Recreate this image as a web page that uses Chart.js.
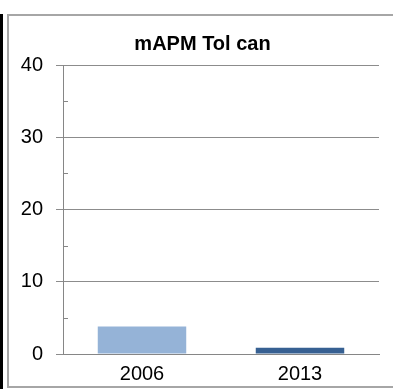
<!DOCTYPE html>
<html>
<head>
<meta charset="utf-8">
<script src="https://cdn.jsdelivr.net/npm/chart.js@4"></script>
<style>
  html, body { margin: 0; padding: 0; background: #fff; }
  #wrap { width: 393px; height: 389px; position: relative; }
</style>
</head>
<body>
<div id="wrap"><canvas id="myChart" width="393" height="389"></canvas></div>
<script>
'use strict';

let years = ['2006', '2013'];
let values = [3.8, 0.85];
let barColors = ['#95B3D7', '#376092'];
let chartTitle = 'mAPM Tol can';
let yMin = 0;
let yMax = 40;

// frame round the chart, plus the dark strip on the left edge
const framePlugin = {
  id: 'frame',
  beforeDraw(chart) {
    let ctx = chart.ctx;
    ctx.save();
    ctx.fillStyle = '#000';
    ctx.fillRect(0, 14, 3, 375);
    ctx.strokeStyle = '#a6a6a6';
    ctx.lineWidth = 2;
    ctx.strokeRect(8, 15, 400, 372);
    ctx.restore();
  }
};

// title sits a bit right of the plot's centre in the original
const titlePlugin = {
  id: 'offsetTitle',
  afterDraw(chart) {
    let ctx = chart.ctx;
    let area = chart.chartArea;
    ctx.save();
    ctx.fillStyle = '#000';
    ctx.font = 'bold 20px "Liberation Sans"';
    ctx.textAlign = 'center';
    ctx.textBaseline = 'middle';
    ctx.fillText(chartTitle, (area.left + area.right) / 2 - 18.5, 44);
    ctx.restore();
  }
};

// small inner ticks at the half steps
const minorTicks = {
  id: 'minorTicks',
  afterDatasetsDraw(chart) {
    let y = chart.scales.y;
    let ctx = chart.ctx;
    ctx.save();
    ctx.strokeStyle = '#868686';
    ctx.lineWidth = 1;
    for (let v = yMin + 5; v < yMax; v += 10) {
      let py = Math.round(y.getPixelForValue(v)) + 0.5;
      ctx.beginPath();
      ctx.moveTo(y.right, py);
      ctx.lineTo(y.right + 5, py);
      ctx.stroke();
    }
    ctx.restore();
  }
};

let canvasChart = document.getElementById('myChart').getContext('2d');

const data = {
  labels: years,
  datasets: [{
    data: values,
    backgroundColor: barColors,
    borderWidth: 0,
    categoryPercentage: 0.56,
    barPercentage: 1
  }]
};

const config = {
  type: 'bar',
  data: data,
  plugins: [framePlugin, minorTicks, titlePlugin],
  options: {
    responsive: false,
    animation: false,
    layout: { padding: { left: 8, right: 14, top: 65, bottom: 2 } },
    plugins: {
      legend: { display: false },
      tooltip: { enabled: false },
      title: { display: false }
    },
    scales: {
      x: {
        grid: { display: false, drawTicks: false },
        border: { color: '#868686', width: 1 },
        ticks: {
          color: '#000',
          padding: 8,
          font: { family: 'Liberation Sans', size: 20 }
        },
        afterFit(scale) { scale.height = 33; }
      },
      y: {
        min: yMin,
        max: yMax,
        ticks: {
          stepSize: 10,
          color: '#000',
          padding: 13,
          font: { family: 'Liberation Sans', size: 20 }
        },
        grid: {
          color: '#8c8c8c',
          tickColor: '#8c8c8c',
          tickLength: 7,
          lineWidth: 1
        },
        border: { color: '#868686', width: 1 },
        afterFit(scale) { scale.width = 55; }
      }
    }
  }
};

// eslint-disable-next-line no-unused-vars, no-undef
const myChart = new Chart(canvasChart, config);
</script>
</body>
</html>
